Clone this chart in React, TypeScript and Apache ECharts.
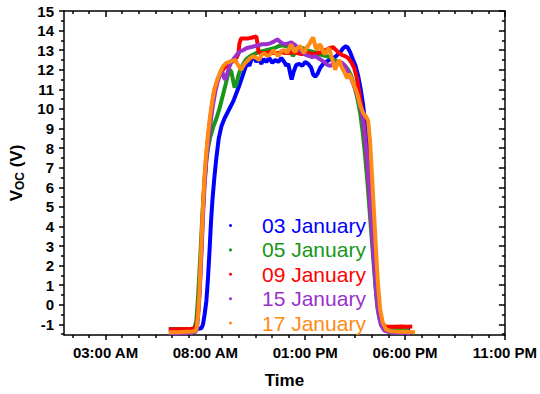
import React, { useEffect, useRef } from "react";
import * as echarts from "echarts";

const seriesNames = ["03 January", "05 January", "09 January", "15 January", "17 January"];
const seriesColors = ["#0000ff", "#189618", "#ff0000", "#9932cc", "#ff8a14"];

const jan03: number[][] = [
  [6.17,-1.27],[6.5,-1.27],[6.9,-1.26],[7.3,-1.25],[7.6,-1.23],[7.8,-1.2],[7.88,-1.0],[7.96,-0.5],[8.05,0.2],[8.12,1.2],[8.2,2.6],[8.28,4.2],[8.35,5.3],[8.45,6.5],[8.55,7.5],[8.67,8.5],[8.8,9.1],[8.95,9.5],[9.1,9.8],[9.25,10.1],[9.4,10.4],[9.55,10.8],[9.7,11.2],[9.8,11.5],[9.9,11.8],[10.0,12.1],[10.1,12.35],[10.2,12.2],[10.3,12.5],[10.42,12.7],[10.55,12.4],[10.68,12.6],[10.8,12.3],[10.92,12.55],[11.05,12.4],[11.2,12.6],[11.35,12.35],[11.5,12.5],[11.65,12.4],[11.8,12.6],[11.95,12.4],[12.05,12.2],[12.15,12.3],[12.25,11.8],[12.32,11.5],[12.42,11.9],[12.55,12.25],[12.7,12.3],[12.85,12.2],[13.0,12.4],[13.15,12.3],[13.3,12.1],[13.4,11.75],[13.5,11.65],[13.62,11.8],[13.75,12.1],[13.9,12.3],[14.05,12.4],[14.2,12.5],[14.35,12.6],[14.5,12.65],[14.65,12.8],[14.8,12.95],[14.9,13.1],[15.02,13.2],[15.12,13.15],[15.25,12.9],[15.38,12.55],[15.52,12.2],[15.65,11.7],[15.78,11.0],[15.9,10.2],[16.0,9.3],[16.1,8.2],[16.2,6.8],[16.3,5.2],[16.4,3.6],[16.5,2.0],[16.6,0.6],[16.7,-0.4],[16.82,-1.0],[16.98,-1.2],[17.2,-1.26],[17.6,-1.27],[18.0,-1.28],[18.25,-1.28]
];

const jan05: number[][] = [
  [6.17,-1.24],[6.6,-1.24],[7.0,-1.23],[7.3,-1.22],[7.45,-1.18],[7.55,-0.8],[7.62,0.2],[7.7,1.6],[7.78,3.2],[7.86,4.8],[7.95,6.2],[8.05,7.4],[8.15,8.1],[8.25,8.6],[8.4,9.1],[8.55,9.5],[8.7,10.0],[8.85,10.6],[9.0,11.2],[9.12,11.7],[9.22,12.0],[9.3,11.9],[9.38,11.5],[9.46,11.1],[9.55,11.25],[9.65,11.7],[9.75,12.0],[9.9,12.3],[10.05,12.55],[10.25,12.7],[10.45,12.8],[10.65,12.9],[10.85,12.95],[11.05,13.0],[11.25,13.05],[11.45,13.1],[11.65,13.2],[11.85,13.25],[12.05,13.2],[12.2,13.15],[12.3,12.9],[12.38,12.7],[12.48,12.85],[12.6,13.0],[12.75,13.1],[12.9,13.1],[13.05,13.0],[13.25,12.95],[13.45,12.9],[13.65,12.8],[13.85,12.75],[14.05,12.7],[14.25,12.65],[14.45,12.5],[14.65,12.4],[14.85,12.3],[15.0,12.2],[15.15,12.0],[15.3,11.7],[15.45,11.2],[15.6,10.6],[15.75,9.8],[15.88,8.8],[16.0,7.6],[16.12,6.2],[16.24,4.6],[16.36,3.0],[16.48,1.4],[16.6,0.0],[16.72,-0.7],[16.88,-1.1],[17.1,-1.22],[17.5,-1.25],[17.9,-1.26],[18.2,-1.27]
];

const jan09: number[][] = [
  [6.17,-1.25],[6.6,-1.25],[7.0,-1.24],[7.3,-1.23],[7.5,-1.2],[7.58,-0.9],[7.65,-0.2],[7.72,0.9],[7.79,2.6],[7.86,4.4],[7.94,6.1],[8.03,7.4],[8.12,8.4],[8.22,9.3],[8.32,10.1],[8.42,10.8],[8.52,11.2],[8.65,11.6],[8.8,11.9],[9.0,12.15],[9.2,12.3],[9.4,12.45],[9.55,12.6],[9.65,12.8],[9.7,13.3],[9.78,13.6],[9.95,13.6],[10.15,13.6],[10.35,13.65],[10.55,13.7],[10.62,13.3],[10.66,12.9],[10.8,12.85],[11.0,12.85],[11.2,12.9],[11.4,12.85],[11.6,12.85],[11.8,12.9],[12.0,12.85],[12.2,12.85],[12.4,12.9],[12.6,12.85],[12.8,12.8],[13.0,12.8],[13.2,12.85],[13.4,12.8],[13.6,12.85],[13.8,12.9],[14.0,13.0],[14.2,13.1],[14.4,13.15],[14.55,13.0],[14.7,12.85],[14.85,12.75],[15.0,12.7],[15.15,12.6],[15.3,12.4],[15.45,12.1],[15.58,11.6],[15.7,10.9],[15.82,10.1],[15.94,9.1],[16.05,7.9],[16.17,6.4],[16.28,4.8],[16.39,3.1],[16.5,1.5],[16.61,0.2],[16.73,-0.6],[16.88,-1.0],[17.05,-1.1],[17.4,-1.12],[17.8,-1.1],[18.1,-1.12],[18.36,-1.1]
];

const jan15: number[][] = [
  [6.17,-1.45],[6.6,-1.45],[7.0,-1.44],[7.3,-1.42],[7.52,-1.38],[7.6,-1.0],[7.67,-0.1],[7.74,1.2],[7.81,2.8],[7.88,4.5],[7.96,6.1],[8.05,7.4],[8.15,8.4],[8.26,9.3],[8.38,10.2],[8.5,10.9],[8.62,11.4],[8.75,11.8],[8.85,11.9],[8.93,11.6],[9.0,11.5],[9.08,11.75],[9.18,12.1],[9.3,12.4],[9.45,12.6],[9.6,12.8],[9.75,12.95],[9.9,13.0],[10.05,13.1],[10.25,13.15],[10.45,13.2],[10.65,13.25],[10.85,13.3],[11.05,13.3],[11.25,13.35],[11.45,13.45],[11.6,13.55],[11.72,13.45],[11.85,13.35],[12.0,13.3],[12.15,13.35],[12.3,13.4],[12.45,13.3],[12.6,13.15],[12.75,13.0],[12.9,12.85],[13.05,12.75],[13.2,12.7],[13.35,12.65],[13.5,12.7],[13.65,12.6],[13.8,12.5],[13.95,12.4],[14.1,12.25],[14.25,12.2],[14.4,12.3],[14.55,12.35],[14.7,12.4],[14.85,12.35],[15.0,12.2],[15.15,11.9],[15.28,11.6],[15.4,11.3],[15.55,10.9],[15.7,10.4],[15.85,9.7],[15.97,8.8],[16.08,7.6],[16.2,6.0],[16.3,4.4],[16.4,2.8],[16.52,1.0],[16.64,-0.3],[16.78,-1.0],[16.95,-1.3],[17.2,-1.4],[17.6,-1.42],[18.0,-1.43],[18.25,-1.45]
];

const jan17: number[][] = [
  [6.17,-1.4],[6.6,-1.4],[7.0,-1.38],[7.35,-1.36],[7.55,-1.3],[7.63,-0.6],[7.7,0.6],[7.78,2.6],[7.86,4.6],[7.94,6.3],[8.03,7.6],[8.12,8.6],[8.22,9.5],[8.33,10.3],[8.45,11.0],[8.6,11.5],[8.75,11.9],[8.9,12.2],[9.05,12.35],[9.2,12.4],[9.35,12.45],[9.5,12.5],[9.6,12.3],[9.7,12.15],[9.8,12.0],[9.9,12.2],[10.0,12.35],[10.1,12.45],[10.25,12.6],[10.4,12.7],[10.55,12.6],[10.7,12.5],[10.8,12.75],[10.95,12.85],[11.1,12.7],[11.25,12.8],[11.4,13.0],[11.5,12.85],[11.65,12.7],[11.8,12.95],[11.95,13.0],[12.1,12.85],[12.2,13.1],[12.3,13.3],[12.4,13.0],[12.5,12.9],[12.6,13.1],[12.75,13.2],[12.85,13.0],[12.95,12.85],[13.05,13.1],[13.2,13.3],[13.3,13.5],[13.4,13.65],[13.5,13.2],[13.6,13.0],[13.7,13.3],[13.8,13.2],[13.9,12.9],[14.0,12.8],[14.1,13.0],[14.2,13.1],[14.3,12.7],[14.4,12.4],[14.5,12.0],[14.6,12.3],[14.7,12.5],[14.8,12.2],[14.9,12.0],[15.0,11.8],[15.1,11.55],[15.2,11.8],[15.3,11.6],[15.45,11.2],[15.6,10.8],[15.75,10.2],[15.9,9.8],[16.05,9.6],[16.15,9.4],[16.25,8.3],[16.35,6.5],[16.45,4.6],[16.55,2.7],[16.65,1.0],[16.75,-0.2],[16.88,-0.9],[17.05,-1.25],[17.3,-1.35],[17.7,-1.37],[18.1,-1.38],[18.5,-1.4]
];

const seriesData = [jan03, jan05, jan09, jan15, jan17];

const xMin = 0.92;
const xMax = 23;
const xTickValues = [3, 8, 13, 18, 23];
const xTickLabels = ["03:00 AM", "08:00 AM", "01:00 PM", "06:00 PM", "11:00 PM"];
const xMinorTicks = [1.3333, 2.1667, 3.8333, 4.6667, 5.5, 6.3333, 7.1667, 8.8333, 9.6667, 10.5, 11.3333, 12.1667, 13.8333, 14.6667, 15.5, 16.3333, 17.1667, 18.8333, 19.6667, 20.5, 21.3333, 22.1667];

const yMin = -1.54;
const yMax = 15;
const yTickValues = [-1, 0, 1, 2, 3, 4, 5, 6, 7, 8, 9, 10, 11, 12, 13, 14, 15];
const yMinorTicks = [-1.5, -0.5, 0.5, 1.5, 2.5, 3.5, 4.5, 5.5, 6.5, 7.5, 8.5, 9.5, 10.5, 11.5, 12.5, 13.5, 14.5];

const FONT = "'Liberation Sans', Arial, sans-serif";
const AXIS_COLOR = "#000";

function makeXAxis(position: string, values: number[], length: number, inside: boolean, showLine: boolean, extra: any = {}) {
  return {
    type: "value",
    position,
    min: xMin,
    max: xMax,
    axisLine: { show: showLine, onZero: false, lineStyle: { color: AXIS_COLOR, width: 1.5 } },
    axisTick: { show: true, inside, length, customValues: values, lineStyle: { color: AXIS_COLOR, width: 1.5 } },
    axisLabel: { show: false },
    splitLine: { show: false },
    ...extra,
  };
}

function makeYAxis(position: string, values: number[], length: number, inside: boolean, showLine: boolean, extra: any = {}) {
  return {
    type: "value",
    position,
    min: yMin,
    max: yMax,
    axisLine: { show: showLine, onZero: false, lineStyle: { color: AXIS_COLOR, width: 1.5 } },
    axisTick: { show: true, inside, length, customValues: values, lineStyle: { color: AXIS_COLOR, width: 1.5 } },
    axisLabel: { show: false },
    splitLine: { show: false },
    ...extra,
  };
}

export default function App() {
  const ref = useRef<HTMLDivElement>(null);

  useEffect(() => {
    if (!ref.current) return;
    const chart = echarts.init(ref.current, null, { renderer: "svg" });
    const option: any = {
      animation: false,
      backgroundColor: "#fff",
      grid: { left: 63, top: 11, width: 444, height: 328.5, containLabel: false },
      legend: {
        orient: "vertical",
        left: 229,
        top: 215,
        padding: 0,
        itemGap: 3.4,
        itemWidth: 3,
        itemHeight: 3,
        icon: "circle",
        selectedMode: false,
        textStyle: { fontFamily: FONT, fontSize: 21, lineHeight: 20, padding: [0, 0, 0, 25] },
        data: seriesNames.map((n, i) => ({ name: n, textStyle: { color: seriesColors[i] } })),
      },
      xAxis: [
        makeXAxis("bottom", xTickValues, 5, false, true, {
          axisLabel: {
            show: true,
            customValues: xTickValues,
            formatter: (v: number) => xTickLabels[xTickValues.indexOf(Math.round(v))] ?? "",
            fontFamily: FONT,
            fontWeight: "bold",
            fontSize: 15,
            color: "#000",
            margin: 10,
          },
          name: "Time",
          nameLocation: "middle",
          nameGap: 37,
          nameTextStyle: { fontFamily: FONT, fontWeight: "bold", fontSize: 17, color: "#000" },
        }),
        makeXAxis("bottom", xMinorTicks, 3, false, false),
        makeXAxis("top", xTickValues, 6, true, true),
        makeXAxis("top", xMinorTicks, 3, true, false),
      ],
      yAxis: [
        makeYAxis("left", yTickValues, 5, false, true, {
          axisLabel: {
            show: true,
            customValues: yTickValues,
            fontFamily: FONT,
            fontWeight: "bold",
            fontSize: 15,
            color: "#000",
            margin: 10,
          },
          name: "{v|V}{s|OC}{v| (V)}",
          nameLocation: "middle",
          nameGap: 38,
          nameTextStyle: {
            rich: {
              v: { fontFamily: FONT, fontWeight: "bold", fontSize: 17, color: "#000" },
              s: { fontFamily: FONT, fontWeight: "bold", fontSize: 12, color: "#000", verticalAlign: "bottom", padding: [7, 0, 0, 0] },
            },
          },
        }),
        makeYAxis("left", yMinorTicks, 3, false, false),
        makeYAxis("right", yTickValues, 6, true, true),
        makeYAxis("right", yMinorTicks, 3, true, false),
      ],
      series: seriesNames.map((n, i) => ({
        name: n,
        type: "line",
        xAxisIndex: 0,
        yAxisIndex: 0,
        data: seriesData[i],
        showSymbol: false,
        symbol: "circle",
        symbolSize: 3,
        color: seriesColors[i],
        lineStyle: { color: seriesColors[i], width: 4 },
        itemStyle: { color: seriesColors[i] },
        z: 2 + i,
      })),
    };
    chart.setOption(option);
    return () => chart.dispose();
  }, []);

  return <div ref={ref} style={{ position: "absolute", left: 0, top: 0, width: 540, height: 394 }} />;
}
